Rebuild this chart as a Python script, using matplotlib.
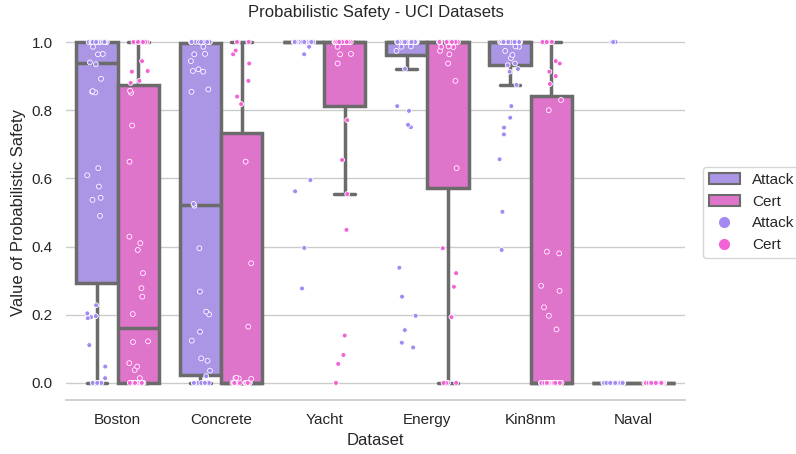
import numpy as np
import pandas as pd
import matplotlib
matplotlib.use("Agg")
import matplotlib.pyplot as plt
import seaborn as sns
from matplotlib.patches import Patch
from matplotlib.lines import Line2D

datasets = ["Boston", "Concrete", "Yacht", "Energy", "Kin8nm", "Naval"]
methods = ["Attack", "Cert"]

# probabilistic safety per test point, one list per dataset / method
boston_attack = ([0.0] * 4 + [0.014, 0.048, 0.111, 0.193, 0.19, 0.196, 0.204, 0.228,
                               0.49, 0.537, 0.543, 0.576, 0.609, 0.63, 0.854, 0.852, 0.856,
                               0.892, 0.935, 0.94, 0.964, 0.965, 0.986] + [1.0] * 19)
boston_cert = ([0.0] * 17 + [0.014, 0.038, 0.048, 0.058, 0.12, 0.122, 0.202, 0.253,
                              0.278, 0.322, 0.39, 0.41, 0.429, 0.649, 0.755, 0.851, 0.857,
                              0.88, 0.886, 0.913, 0.915, 0.944] + [1.0] * 7)
concrete_attack = ([0.0] * 10 + [0.02, 0.036, 0.065, 0.072, 0.124, 0.15, 0.201, 0.209,
                                  0.268, 0.395, 0.52, 0.525, 0.854, 0.861, 0.913, 0.915,
                                  0.92, 0.944, 0.964, 0.965, 0.986] + [1.0] * 11)
concrete_cert = ([0.0] * 22 + [0.012, 0.013, 0.014, 0.015, 0.165, 0.351, 0.649, 0.818,
                                0.84, 0.886, 0.937, 0.964, 0.975] + [1.0] * 4)
yacht_attack = [0.277, 0.396, 0.562, 0.595, 0.964, 0.986] + [1.0] * 24
yacht_cert = ([0.0, 0.056, 0.082, 0.139, 0.449, 0.554, 0.654, 0.771, 0.937, 0.964,
               0.965, 0.986] + [1.0] * 18)
energy_attack = ([0.104, 0.118, 0.155, 0.197, 0.253, 0.338, 0.75, 0.757, 0.798, 0.812,
                  0.921, 0.974, 0.986, 0.987] + [1.0] * 30)
energy_cert = ([0.0] * 5 + [0.193, 0.282, 0.322, 0.395, 0.63, 0.886, 0.937, 0.964,
                             0.974, 0.985, 0.986, 0.987] + [1.0] * 19)
kin8nm_attack = ([0.39, 0.502, 0.656, 0.729, 0.749, 0.778, 0.812, 0.874, 0.913, 0.921,
                  0.932, 0.937, 0.953, 0.962, 0.974, 0.986, 0.987] + [1.0] * 24)
kin8nm_cert = ([0.0] * 24 + [0.157, 0.197, 0.222, 0.27, 0.285, 0.38, 0.385, 0.8, 0.83,
                              0.877, 0.9, 0.913, 0.937, 0.944] + [1.0] * 6)
naval_attack = [0.0] * 37 + [1.0] * 3
naval_cert = [0.0] * 40

safety = {
    ("Boston", "Attack"): boston_attack, ("Boston", "Cert"): boston_cert,
    ("Concrete", "Attack"): concrete_attack, ("Concrete", "Cert"): concrete_cert,
    ("Yacht", "Attack"): yacht_attack, ("Yacht", "Cert"): yacht_cert,
    ("Energy", "Attack"): energy_attack, ("Energy", "Cert"): energy_cert,
    ("Kin8nm", "Attack"): kin8nm_attack, ("Kin8nm", "Cert"): kin8nm_cert,
    ("Naval", "Attack"): naval_attack, ("Naval", "Cert"): naval_cert,
}
rows = [(d, m, v) for (d, m), vals in safety.items() for v in vals]
df = pd.DataFrame(rows, columns=["Dataset", "Method", "Safety"])

palette = {"Attack": "#a389f1", "Cert": "#f162d6"}
box_colors = {k: sns.desaturate(c, 0.75) for k, c in palette.items()}
line_gray = "#6b6b6b"

sns.set_theme(style="whitegrid")
plt.rcParams["font.family"] = ["Liberation Sans", "DejaVu Sans"]
np.random.seed(3)

fig = plt.figure(figsize=(7.96, 4.54), dpi=100)
ax = fig.add_axes([0.083, 0.119, 0.778, 0.826])

sns.boxplot(data=df, x="Dataset", y="Safety", hue="Method", order=datasets,
            hue_order=methods, palette=palette, showfliers=False, linewidth=2.5,
            linecolor=line_gray, legend=False, ax=ax)
sns.stripplot(data=df, x="Dataset", y="Safety", hue="Method", order=datasets,
              hue_order=methods, palette=palette, dodge=True, jitter=0.2, size=3.5,
              linewidth=0.6, edgecolor="white", legend=False, ax=ax)

ax.set_xlim(-0.5, 5.5)
ax.set_ylim(-0.05, 1.05)
ax.xaxis.grid(False)
sns.despine(ax=ax, left=True)

ax.set_title("Probabilistic Safety - UCI Datasets", fontsize=12)
ax.set_xlabel("Dataset", fontsize=12)
ax.set_ylabel("Value of Probabilistic Safety", fontsize=12)

handles = [Patch(facecolor=box_colors[m], edgecolor=line_gray, linewidth=1.5) for m in methods]
handles += [Line2D([], [], marker="o", linestyle="", markersize=7,
                   markerfacecolor=palette[m], markeredgecolor=palette[m]) for m in methods]
ax.legend(handles, methods + methods, loc="center left", bbox_to_anchor=(1.016, 0.5),
          fontsize=11)

fig.savefig("out.png", dpi=100)
